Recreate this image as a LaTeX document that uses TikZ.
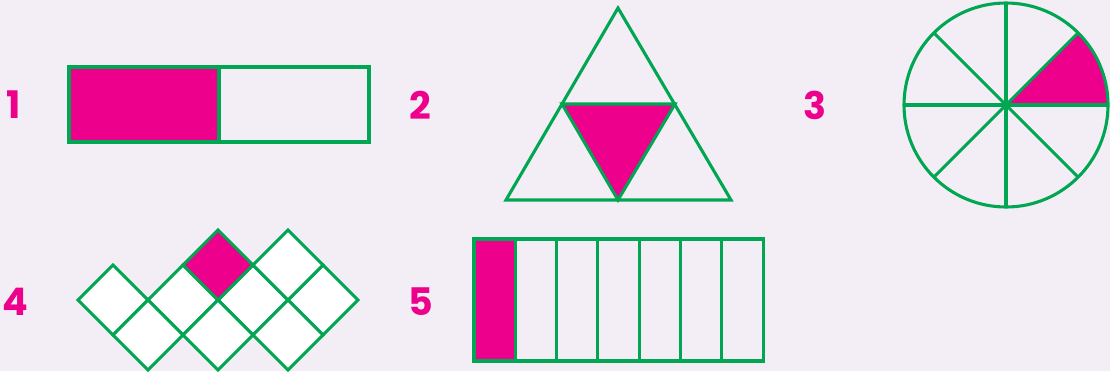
\documentclass[tikz,border=0pt]{standalone}
\usepackage{fontspec}
\setmainfont{Poppins}
\definecolor{bgpaper}{HTML}{F3EEF6}
\definecolor{fracgreen}{HTML}{00A651}
\definecolor{fracpink}{HTML}{EC008C}
\begin{document}
\begin{tikzpicture}[x=0.025cm, y=-0.025cm,
  part/.style={draw=fracgreen, line width=2.2pt, line join=miter},
  shade/.style={part, fill=fracpink},
  tile/.style={part, fill=white},
  numlabel/.style={text=fracpink, font=\fontsize{27}{30}\selectfont\bfseries, inner sep=0pt}]
  \fill[bgpaper] (0,0) rectangle (1110,371);
  \useasboundingbox (0,0) rectangle (1110,371);
  % labels
  \node[numlabel] (lab1) at (14,105) {1};
  \node[numlabel] (lab2) at (420,105) {2};
  \node[numlabel] (lab3) at (815,105) {3};
  \node[numlabel] (lab4) at (15,302) {4};
  \node[numlabel] (lab5) at (421,302) {5};
  % 1: halves
  \begin{scope}
    \draw[shade] (69,67) rectangle (219,142);
    \draw[part] (219,67) rectangle (369,142);
  \end{scope}
  % 2: triangle in quarters
  \begin{scope}
    \draw[shade] (562,104) -- (675,104) -- (618,200) -- cycle;
    \draw[part] (618,8) -- (731,200) -- (506,200) -- cycle;
  \end{scope}
  % 3: circle in eighths
  \begin{scope}[shift={(1006,105)}]
    \fill[fracpink] (0,0) -- (0:102) arc (0:-45:102) -- cycle;
    \foreach \a in {0,45,...,315}
      \draw[part] (0,0) -- (\a:102);
    \draw[part] (0,0) circle (102);
  \end{scope}
  % 4: diamonds
  \begin{scope}
    \foreach \cx/\cy in {113/300,183/300,253/300,323/300,148/335,218/335,288/335,288/265}
      \draw[tile] (\cx-35,\cy) -- (\cx,\cy-35) -- (\cx+35,\cy) -- (\cx,\cy+35) -- cycle;
    \draw[shade] (183,265) -- (218,230) -- (253,265) -- (218,300) -- cycle;
  \end{scope}
  % 5: sevenths
  \begin{scope}
    \draw[shade] (474,239) rectangle (515.3,361);
    \foreach \i in {1,...,6}
      \draw[part] ({474+41.3*\i},239) rectangle ({474+41.3*(\i+1)},361);
  \end{scope}
\end{tikzpicture}
\end{document}
